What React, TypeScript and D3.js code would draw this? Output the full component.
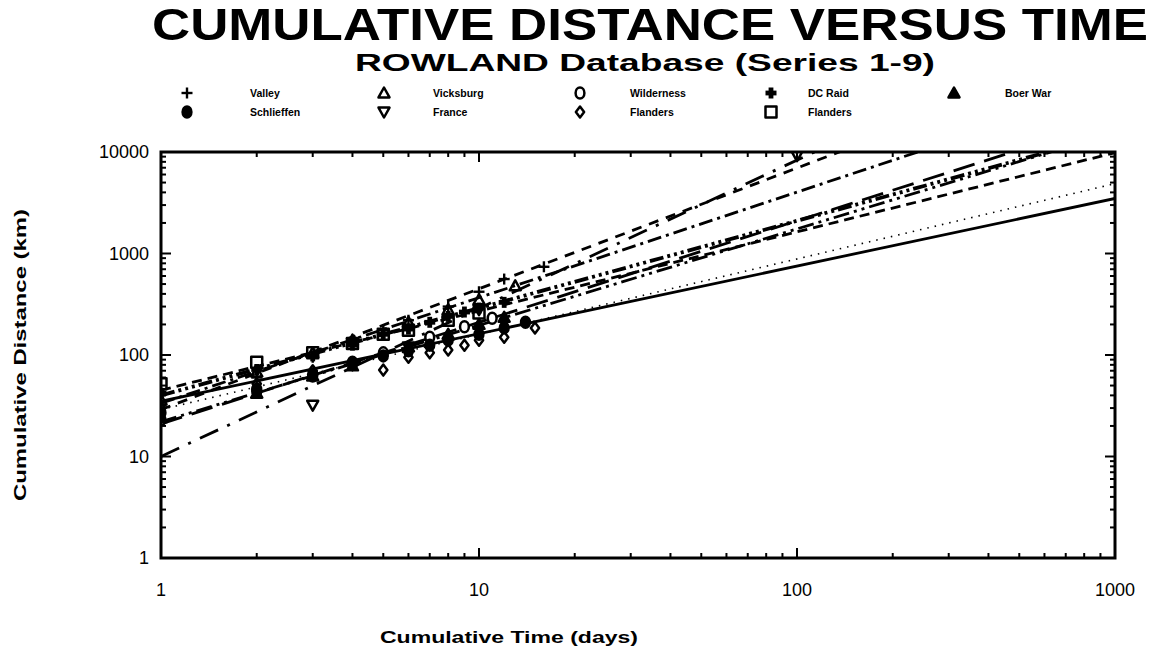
import React from "react";
import * as d3 from "d3";

// ---- data ----
const seriesNames = ["Valley", "Vicksburg", "Wilderness", "DC Raid", "Boer War", "Schlieffen", "France", "Flanders", "Flanders"];
const seriesSymbols = ["plus", "triUp", "circle", "cross", "triUpFill", "circleFill", "triDown", "diamond", "square"];

const valley = [[1, 32], [2, 60], [3, 95], [4, 140], [5, 175], [6, 220], [8, 300], [10, 420], [12, 560], [16, 740]];
const vicksburg = [[1, 36], [2, 68], [3, 105], [4, 140], [6, 210], [8, 280], [10, 350], [13, 480]];
const wilderness = [[1, 23], [2, 44], [3, 62], [4, 85], [5, 105], [7, 150], [9, 190], [11, 230]];
const dcRaid = [[1, 42], [2, 72], [3, 98], [4, 125], [5, 160], [6, 180], [7, 210], [8, 240], [9, 265], [10, 290], [12, 330]];
const boerWar = [[1, 24], [2, 42], [3, 62], [4, 78], [6, 120], [8, 160], [10, 200], [12, 235]];
const schlieffen = [[1, 27], [2, 46], [3, 65], [4, 82], [5, 98], [6, 110], [7, 125], [8, 140], [10, 160], [12, 185], [14, 210]];
const france = [[3, 32], [6, 120], [10, 280], [100, 9200]];
const flanders1 = [[1, 30], [2, 52], [3, 70], [4, 80], [5, 71], [6, 95], [7, 105], [8, 112], [9, 125], [10, 140], [12, 150], [15, 185]];
const flanders2 = [[1, 52], [2, 85], [3, 105], [4, 130], [5, 160], [6, 175], [8, 220], [10, 260]];
const seriesData = [valley, vicksburg, wilderness, dcRaid, boerWar, schlieffen, france, flanders1, flanders2];

// power-law fit lines: d = a * t^b
const fitIntercepts = [29, 33.5, 21, 40, 22, 29, 10, 35, 45];
const fitSlopes = [1.19, 1.04, 1.0, 0.86, 0.95, 0.742, 1.46, 0.666, 0.78];
const fitDash = ["10,8", "14,5,3,5", "22,10", "14,4,3,4,3,4,3,4", "16,5,3,5,3,5", "1.5,6", "20,10,3,10", "", "10,6"];
const fitWidth = [2.8, 2.8, 2.8, 3.8, 2.8, 1.6, 2.8, 2.8, 2.8];

const xTickValues = [1, 10, 100, 1000];
const yTickValues = [1, 10, 100, 1000, 10000];

const W = 1154, H = 654;
const L = 161, R = 1115, T = 152, B = 558;

function markerPath(kind: string, s: number) {
  const h = s / 2;
  switch (kind) {
    case "triUp":
    case "triUpFill":
      return `M0,${-h}L${h},${h * 0.8}L${-h},${h * 0.8}Z`;
    case "triDown":
      return `M0,${h}L${h},${-h * 0.8}L${-h},${-h * 0.8}Z`;
    case "diamond":
      return `M0,${-h}L${h * 0.75},0L0,${h}L${-h * 0.75},0Z`;
    case "square":
      return `M${-h},${-h}L${h},${-h}L${h},${h}L${-h},${h}Z`;
    default:
      return "";
  }
}

function Marker({ kind, x, y, s = 10 }: { kind: string; x: number; y: number; s?: number }) {
  const h = s / 2;
  if (kind === "plus") {
    return (
      <g transform={`translate(${x},${y})`} stroke="#000" strokeWidth={2.4}>
        <line x1={-h} x2={h} y1={0} y2={0} />
        <line x1={0} x2={0} y1={-h} y2={h} />
      </g>
    );
  }
  if (kind === "cross") {
    return (
      <g transform={`translate(${x},${y})`} stroke="#000" strokeWidth={4.8}>
        <line x1={-h} x2={h} y1={0} y2={0} />
        <line x1={0} x2={0} y1={-h} y2={h} />
      </g>
    );
  }
  if (kind === "circle" || kind === "circleFill") {
    return (
      <ellipse cx={x} cy={y} rx={h * 0.8} ry={h} fill={kind === "circleFill" ? "#000" : "#fff"} stroke="#000" strokeWidth={2.5} />
    );
  }
  const filled = kind === "triUpFill";
  return (
    <path transform={`translate(${x},${y})`} d={markerPath(kind, s)} fill={filled ? "#000" : "none"} stroke="#000" strokeWidth={2.5} strokeLinejoin="round" />
  );
}

export default function App() {
  const x = d3.scaleLog().domain([1, 1000]).range([L, R]);
  const y = d3.scaleLog().domain([1, 10000]).range([B, T]);

  const xMinor: number[] = [];
  for (let dec = 1; dec < 1000; dec *= 10) for (let k = 2; k <= 9; k++) xMinor.push(dec * k);
  const yMinor: number[] = [];
  for (let dec = 1; dec < 10000; dec *= 10) for (let k = 2; k <= 9; k++) yMinor.push(dec * k);

  const legendCols = [187, 384, 580, 771, 954];
  const legendTextX = [250, 433, 630, 808, 1005];
  const legendRows = [93, 112];

  const font = "'Liberation Sans', Arial, Helvetica, sans-serif";

  return (
    <svg width={W} height={H} style={{ position: "absolute", left: 0, top: 0, background: "#fff" }} fontFamily={font}>
      <rect width={W} height={H} fill="#fff" />
      <defs>
        <clipPath id="plotclip">
          <rect x={L} y={T} width={R - L} height={B - T} />
        </clipPath>
      </defs>

      {/* titles */}
      <text x={650} y={40} textAnchor="middle" fontSize={44} fontWeight="bold" textLength={996} lengthAdjust="spacingAndGlyphs">
        CUMULATIVE DISTANCE VERSUS TIME
      </text>
      <text x={645} y={71} textAnchor="middle" fontSize={23} fontWeight="bold" textLength={580} lengthAdjust="spacingAndGlyphs">
        ROWLAND Database (Series 1-9)
      </text>

      {/* legend */}
      {seriesNames.map((name, i) => {
        const row = i < 5 ? 0 : 1;
        const col = i < 5 ? i : i - 5;
        return (
          <g key={"lg" + i}>
            <Marker kind={seriesSymbols[i]} x={legendCols[col]} y={legendRows[row]} s={11} />
            <text x={legendTextX[col]} y={legendRows[row] + 4} fontSize={10.5} fontWeight="bold">
              {name}
            </text>
          </g>
        );
      })}

      {/* fit lines */}
      <g clipPath="url(#plotclip)">
        {fitIntercepts.map((a, i) => {
          const b = fitSlopes[i];
          const ts = [1, 1000];
          const d = d3
            .line<number>()
            .x((t) => x(t))
            .y((t) => y(a * Math.pow(t, b)))(ts) as string;
          return (
            <path key={"fit" + i} d={d} fill="none" stroke="#000" strokeWidth={fitWidth[i]} strokeDasharray={fitDash[i] || undefined} />
          );
        })}
        {/* data points */}
        {seriesData.map((pts, i) =>
          pts.map((p, j) => <Marker key={`m${i}-${j}`} kind={seriesSymbols[i]} x={x(p[0])} y={y(p[1])} s={11} />)
        )}
      </g>

      {/* axes frame */}
      <rect x={L} y={T} width={R - L} height={B - T} fill="none" stroke="#000" strokeWidth={3} />

      {/* x ticks */}
      {xTickValues.map((t) => (
        <g key={"xt" + t}>
          <line x1={x(t)} x2={x(t)} y1={B} y2={B - 10} stroke="#000" strokeWidth={2} />
          <line x1={x(t)} x2={x(t)} y1={T} y2={T + 10} stroke="#000" strokeWidth={2} />
          <text x={x(t)} y={596} textAnchor="middle" fontSize={18}>
            {t}
          </text>
        </g>
      ))}
      {xMinor.map((t) => (
        <g key={"xm" + t}>
          <line x1={x(t)} x2={x(t)} y1={B} y2={B - 5} stroke="#000" strokeWidth={2} />
          <line x1={x(t)} x2={x(t)} y1={T} y2={T + 5} stroke="#000" strokeWidth={2} />
        </g>
      ))}

      {/* y ticks */}
      {yTickValues.map((v) => (
        <g key={"yt" + v}>
          <line x1={L} x2={L + 10} y1={y(v)} y2={y(v)} stroke="#000" strokeWidth={2} />
          <line x1={R} x2={R - 10} y1={y(v)} y2={y(v)} stroke="#000" strokeWidth={2} />
          <text x={149} y={y(v) + 6} textAnchor="end" fontSize={18}>
            {v}
          </text>
        </g>
      ))}
      {yMinor.map((v) => (
        <g key={"ym" + v}>
          <line x1={L} x2={L + 5} y1={y(v)} y2={y(v)} stroke="#000" strokeWidth={2} />
          <line x1={R} x2={R - 5} y1={y(v)} y2={y(v)} stroke="#000" strokeWidth={2} />
        </g>
      ))}

      {/* axis titles */}
      <text x={509} y={643} textAnchor="middle" fontSize={17} fontWeight="bold" textLength={258} lengthAdjust="spacingAndGlyphs">
        Cumulative Time (days)
      </text>
      <text
        transform={`translate(26,355) rotate(-90)`}
        textAnchor="middle"
        fontSize={16}
        fontWeight="bold"
        textLength={292}
        lengthAdjust="spacingAndGlyphs"
      >
        Cumulative Distance (km)
      </text>
    </svg>
  );
}
